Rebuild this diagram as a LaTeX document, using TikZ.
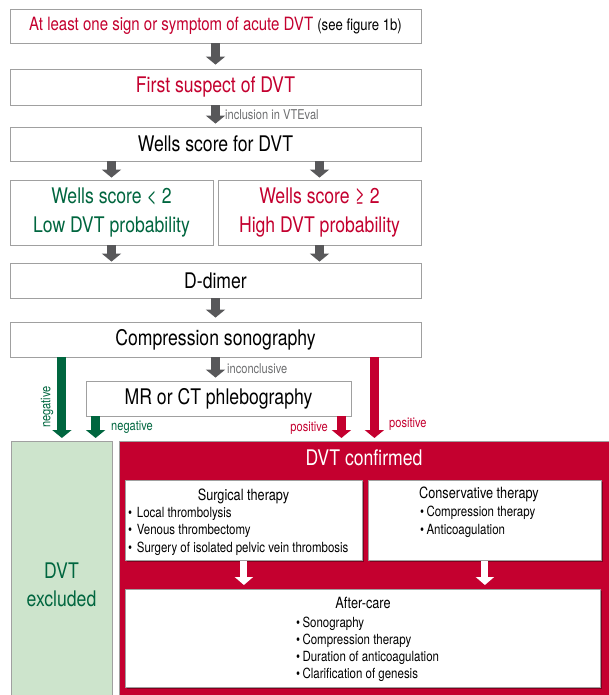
\documentclass[tikz,border=0pt]{standalone}
\usepackage{fontspec}
\setmainfont{TeX Gyre Heros}[FakeStretch=0.82]
\usetikzlibrary{arrows.meta,shadows,calc}

\definecolor{dvtred}{HTML}{C4002F}
\definecolor{dvtgreen}{HTML}{00663F}
\definecolor{dvtlight}{HTML}{CDE4CC}
\definecolor{arrowgray}{HTML}{58585A}
\definecolor{labelgray}{HTML}{6D6E70}
\definecolor{framegray}{HTML}{A0A0A0}

\tikzset{
  box/.style={draw=framegray, line width=0.8pt, fill=white, inner sep=0pt,
    drop shadow={shadow xshift=1.3pt, shadow yshift=-1.3pt, fill=black, opacity=0.35}},
  big/.style={font=\fontsize{21.5}{29}\selectfont},
  lbl/.style={font=\fontsize{13.5}{16}\selectfont, inner sep=0pt},
  head/.style={font=\fontsize{15.5}{18}\selectfont, inner sep=0pt, anchor=base},
  item/.style={font=\fontsize{14}{17}\selectfont, inner sep=0pt, anchor=base west},
  flow/.style={draw=arrowgray, line width=9pt, -{Triangle[width=19pt,length=8pt]}},
  gflow/.style={flow, draw=dvtgreen},
  rflow/.style={flow, draw=dvtred},
  wflow/.style={draw=white, line width=7pt, -{Triangle[width=18pt,length=8pt]}}
}

\begin{document}
\begin{tikzpicture}[x=1pt,y=-1pt]
\useasboundingbox (0,0) rectangle (608,695);

% diagnostic chain
\node[box, minimum width=411pt, minimum height=34pt] (sign) at (215.5,26)
  {\fontsize{18.3}{22}\selectfont\color{dvtred}At least one sign or symptom of acute DVT
   \fontsize{16}{20}\selectfont\color{black}(see figure 1b)};
\node[box, big, text=dvtred, minimum width=411pt, minimum height=36pt] (suspect) at (215.5,87) {First suspect of DVT};
\node[box, big, minimum width=411pt, minimum height=34pt] (wells) at (215.5,144) {Wells score for DVT};
\node[box, big, text=dvtgreen, align=center, minimum width=203pt, minimum height=65pt] (low) at (111.5,212.5)
  {Wells score < 2\\Low DVT probability};
\node[box, big, text=dvtred, align=center, minimum width=203pt, minimum height=65pt] (high) at (319.5,212.5)
  {Wells score ≥ 2\\High DVT probability};
\node[box, big, minimum width=411pt, minimum height=35pt] (ddimer) at (215.5,280.5) {D-dimer};
\node[box, big, minimum width=411pt, minimum height=35pt] (sono) at (215.5,339.5) {Compression sonography};
\node[box, big, minimum width=265pt, minimum height=35pt] (mr) at (218.5,398.5) {MR or CT phlebography};

% outcome panels (running off the lower edge)
\node[draw=framegray, line width=0.8pt, fill=dvtlight, inner sep=0pt, minimum width=101pt, minimum height=270pt,
  anchor=north west] (excluded) at (11,441) {};
\node[big, text=dvtgreen, align=center, font=\fontsize{21.5}{28}\selectfont] (exctext) at (61.5,585) {DVT\\excluded};
\node[draw=framegray, line width=0.8pt, fill=dvtred, inner sep=0pt, minimum width=500pt, minimum height=270pt,
  anchor=north west] (confirmed) at (119,441) {};
\node[big, text=white] (conftitle) at (364,458) {DVT confirmed};

% therapy boxes
\node[box, minimum width=237pt, minimum height=80pt, anchor=north west] (surg) at (125,480) {};
\node[box, minimum width=233pt, minimum height=80pt, anchor=north west] (cons) at (368,480) {};
\node[box, minimum width=475pt, minimum height=98pt, anchor=north west] (after) at (125,589) {};

\node[head] (surgt) at (243.5,500.5) {Surgical therapy};
\node[item] (s1) at (128,517) {•\,\,Local thrombolysis};
\node[item] (s2) at (128,534) {•\,\,Venous thrombectomy};
\node[item] (s3) at (128,552) {•\,\,Surgery of isolated pelvic vein thrombosis};

\node[head] (const) at (479,498.5) {Conservative therapy};
\node[item] (c1) at (420,516) {•\,Compression therapy};
\node[item] (c2) at (420,534) {•\,Anticoagulation};

\node[head] (aftert) at (363,608.5) {After-care};
\node[item] (a1) at (296,627) {•\,Sonography};
\node[item] (a2) at (296,644) {•\,Compression therapy};
\node[item] (a3) at (296,661) {•\,Duration of anticoagulation};
\node[item] (a4) at (296,678) {•\,Clarification of genesis};

% connectors
\draw[flow, shorten >=4pt] (sign.south) -- (suspect.north);
\draw[flow, shorten >=3pt] (suspect.south) -- (wells.north);
\draw[flow, shorten >=2pt] (wells.south -| low.north) -- (low.north);
\draw[flow, shorten >=2pt] (wells.south -| high.north) -- (high.north);
\draw[flow, shorten >=1pt] (low.south) -- (low.south |- ddimer.north);
\draw[flow, shorten >=1pt] (high.south) -- (high.south |- ddimer.north);
\draw[flow, shorten >=4pt] (ddimer.south) -- (sono.north);
\draw[flow, shorten >=3pt] (sono.south) -- (sono.south |- mr.north);

\coordinate (gshort) at ([xshift=10pt]mr.south west);
\coordinate (rshort) at ([xshift=-10pt]mr.south east);
\coordinate (rlong) at ([xshift=-47pt]sono.south east);
\draw[gflow, shorten >=3pt] (sono.south -| excluded.north) -- (excluded.north);
\draw[gflow, shorten >=3pt] (gshort) -- (gshort |- excluded.north);
\draw[rflow, shorten >=3pt] (rshort) -- (rshort |- confirmed.north);
\draw[rflow, shorten >=3pt] (rlong) -- (rlong |- confirmed.north);

\draw[wflow, shorten >=4pt] (surg.south) -- (surg.south |- after.north);
\draw[wflow, shorten >=4pt] (cons.south) -- (cons.south |- after.north);

% connector labels
\node[lbl, text=labelgray, anchor=base west] (l1) at (225,120) {inclusion in VTEval};
\node[lbl, text=labelgray, anchor=base west] (l2) at (227,373) {inconclusive};
\node[lbl, text=dvtgreen, rotate=90] (l3) at (47,407) {negative};
\node[lbl, text=dvtgreen, anchor=base west] (l4) at (111,430) {negative};
\node[lbl, text=dvtred, anchor=base east] (l5) at (328,431) {positive};
\node[lbl, text=dvtred, anchor=base west] (l6) at (389,427) {positive};
\end{tikzpicture}
\end{document}
